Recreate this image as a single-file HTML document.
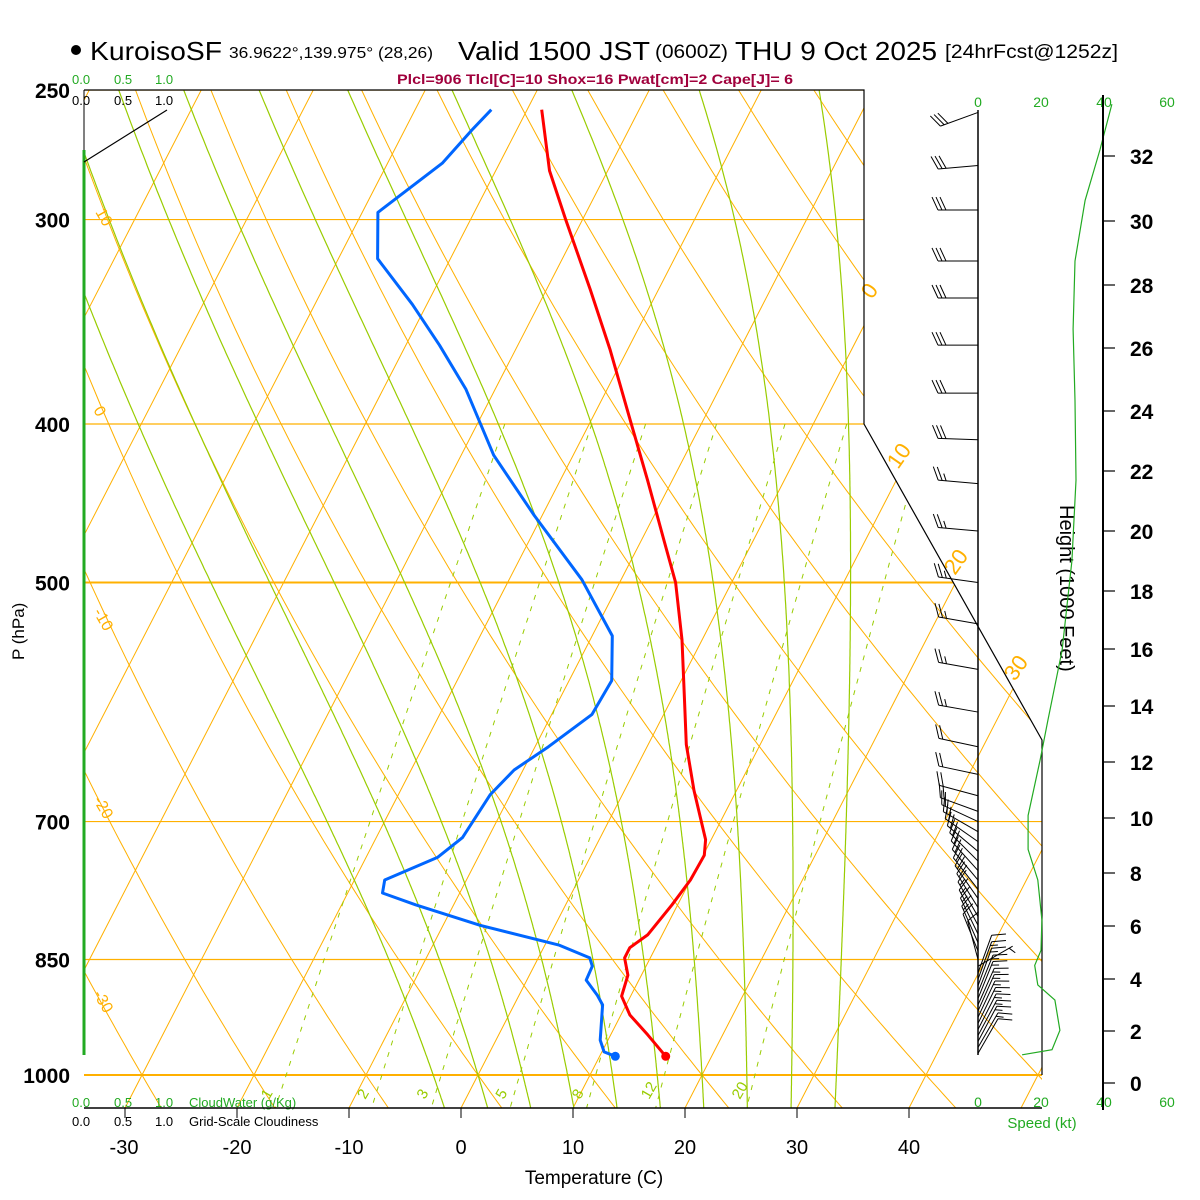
<!DOCTYPE html>
<html><head><meta charset="utf-8"><style>
html,body{margin:0;padding:0;background:#fff;}
svg{display:block;font-family:"Liberation Sans",sans-serif;}
</style></head><body>
<svg id="chart" width="1200" height="1200" viewBox="0 0 1200 1200" xmlns="http://www.w3.org/2000/svg">
<defs><clipPath id="plotclip"><polygon points="84,90 864,90 864,424 1042,740 1042,1108 84,1108"/></clipPath></defs>
<rect width="1200" height="1200" fill="#fff"/>
<g id="bg" clip-path="url(#plotclip)"></g>
<g id="fg"></g>
<g>
<circle cx="76" cy="50" r="5" fill="#000"/>
<text x="90" y="60" font-size="26" textLength="132" lengthAdjust="spacingAndGlyphs">KuroisoSF</text>
<text x="229" y="58" font-size="16" textLength="204" lengthAdjust="spacingAndGlyphs">36.9622°,139.975° (28,26)</text>
<text x="458" y="60" font-size="26" textLength="192" lengthAdjust="spacingAndGlyphs">Valid 1500 JST</text>
<text x="655" y="58" font-size="19" textLength="73" lengthAdjust="spacingAndGlyphs">(0600Z)</text>
<text x="735" y="60" font-size="26" textLength="202" lengthAdjust="spacingAndGlyphs">THU 9 Oct 2025</text>
<text x="945" y="58" font-size="19" textLength="173" lengthAdjust="spacingAndGlyphs">[24hrFcst@1252z]</text>
<text x="397" y="84" font-size="14" font-weight="bold" fill="#a0003c" textLength="396" lengthAdjust="spacingAndGlyphs">Plcl=906 Tlcl[C]=10 Shox=16 Pwat[cm]=2 Cape[J]= 6</text>
</g>
<g font-size="13">
<text x="72" y="84" fill="#22aa22">0.0</text>
<text x="114" y="84" fill="#22aa22">0.5</text>
<text x="155" y="84" fill="#22aa22">1.0</text>
<text x="72" y="105" fill="#000">0.0</text>
<text x="114" y="105" fill="#000">0.5</text>
<text x="155" y="105" fill="#000">1.0</text>
<text x="72" y="1107" fill="#22aa22">0.0</text>
<text x="114" y="1107" fill="#22aa22">0.5</text>
<text x="155" y="1107" fill="#22aa22">1.0</text>
<text x="189" y="1107" fill="#22aa22">CloudWater (g/Kg)</text>
<text x="72" y="1126" fill="#000">0.0</text>
<text x="114" y="1126" fill="#000">0.5</text>
<text x="155" y="1126" fill="#000">1.0</text>
<text x="189" y="1126" fill="#000">Grid-Scale Cloudiness</text>
</g>
<text x="0" y="0" font-size="17" transform="translate(24,660) rotate(-90)">P (hPa)</text>
<text x="594" y="1184" font-size="19" text-anchor="middle">Temperature (C)</text>
<text x="0" y="0" font-size="20" transform="translate(1060,505) rotate(90)">Height (1000 Feet)</text>
<text x="1042" y="1128" font-size="15" fill="#22aa22" text-anchor="middle">Speed (kt)</text>
<script>
// ---- data ----
const pressureTicks = [250,300,400,500,700,850,1000];
const tempTicks = [-30,-20,-10,0,10,20,30,40];
const tempTickLabelX = [124,237,349,461,573,685,797,909];
const isotherms = [-120,-110,-100,-90,-80,-70,-60,-50,-40,-30,-20,-10,0,10,20,30,40,50];
const dryAdiabats = [-40,-30,-20,-10,0,10,20,30,40,50,60,70,80,90,100,110,120,130,140,150,160];
const moistAdiabats = [-4,0,4,8,12,16,20,24,28,32];
const mixingRatios = [1,2,3,5,8,12,20];
const tempP = [257,280,300,331,360,398,433,471,500,542,590,628,670,718,734,760,787,821,836,848,869,895,919,945,974];
const tempC = [-38.7,-35.2,-31.5,-26.1,-21.6,-16.5,-12.2,-8.0,-5.0,-1.8,1.2,3.4,6.2,9.5,10.1,10.0,9.5,8.7,7.7,7.7,8.8,9.2,10.8,13.3,15.9];
const dewP = [257,264.5,277,297,317,338,358,381,418,455,498,539,574,602,630,651,674,716,736,760,774,787,810,833,848,858,875,894,906,952,968,974];
const dewC = [-43.2,-44.0,-45.1,-48.6,-46.5,-41.3,-37.0,-32.6,-27.1,-20.7,-13.5,-8.2,-6.2,-6.4,-8.8,-10.8,-11.8,-12.3,-13.6,-17.3,-16.9,-13.4,-6.7,1.3,4.6,5.2,5.3,7.0,7.9,9.3,10.2,11.4];
const speedP = [255,272,292,318,350,387,433,485,550,607,642,694,728,760,804,839,857,881,900,939,965,972];
const speedKt = [42.5,38.7,34,30.8,30.2,30.8,31.1,29.8,26.7,22.2,19.7,15.9,15.9,19,20.3,20,18,19,24.4,26,23.5,14];
const windP = [258,278,296,318,335,358,383,409,435,465,500,530,565,600,630,655,675,690,700,710,720,730,740,750,760,770,780,790,800,810,820,830,840,850,858,866,874,882,890,898,906,914,922,930,938,946,954,962,970];
const windKt = [30,30,30,30,30,30,30,30,25,25,25,25,25,25,20,20,20,20,20,20,20,20,20,20,20,20,20,20,15,15,15,15,10,10,5,10,15,15,15,15,15,15,15,15,15,15,15,15,10];
const windDir = [250,265,270,270,270,270,270,272,275,275,278,280,280,280,282,282,285,290,295,300,305,310,315,318,320,322,325,328,330,332,334,336,338,345,60,20,20,20,22,22,24,24,25,26,27,28,28,30,30];
const heightKft = [0,2,4,6,8,10,12,14,16,18,20,22,24,26,28,30,32];
const heightY = [1083,1031,979,926,873,818,762,706,649,591,531,471,411,348,285,221,156];
const speedTicks = [0,20,40,60];

// ---- axis functions ----
const NS='http://www.w3.org/2000/svg';
function yP(p){return 1075-710.5*Math.log(1000/p);}
function xT(T,p){return 478+11.2*T+0.515*(1075-yP(p));}
function xS(s){return 978+3.15*s;}
function mk(parent,tag,attrs){const e=document.createElementNS(NS,tag);for(const k in attrs)e.setAttribute(k,attrs[k]);parent.appendChild(e);return e;}
const bg=document.getElementById('bg'), fg=document.getElementById('fg'), svg=document.getElementById('chart');
const OR='#ffb000', GR='#99cc00';
function poly(pts){return pts.map(q=>q[0].toFixed(1)+','+q[1].toFixed(1)).join(' ');}

pressureTicks.forEach(p=>{
  const l=mk(bg,'line',{x1:84,x2:1042,y1:yP(p),y2:yP(p),stroke:OR,'stroke-width':(p===500||p===1000)?2:1.2});
  
  
  const t=mk(svg,'text',{x:70,y:yP(p)+8,'font-size':21,'font-weight':'bold','text-anchor':'end'});
  t.textContent=p;
  
  
});
isotherms.forEach(T=>{
  const l=mk(bg,'line',{x1:xT(T,1050),y1:yP(1050),x2:xT(T,240),y2:yP(240),stroke:OR,'stroke-width':1});
  
  
});
dryAdiabats.forEach(th=>{
  const pts=[];for(let p=1060;p>=240;p-=10){const T=(th+273.15)*Math.pow(p/1000,0.2857)-273.15;pts.push([xT(T,p),yP(p)]);}
  const l=mk(bg,'polyline',{points:poly(pts),fill:'none',stroke:OR,'stroke-width':1});
  
  
});
function dTdp(T,p){const Tk=T+273.15;const es=6.112*Math.exp(17.67*T/(T+243.5));const rs=0.622*es/(p-es);
  return (287*Tk+2.5e6*rs)/(1004+2.5e6*2.5e6*rs*0.622/(287*Tk*Tk))/p;}
moistAdiabats.forEach(tw=>{
  const up=[];let T=tw;for(let p=1000;p>=240;p-=2){up.push([xT(T,p),yP(p)]);T-=dTdp(T,p)*2;}
  const dn=[];T=tw;for(let p=1000;p<=1060;p+=2){dn.push([xT(T,p),yP(p)]);T+=dTdp(T,p)*2;}
  const pts=dn.reverse().concat(up);
  const l=mk(bg,'polyline',{points:poly(pts),fill:'none',stroke:GR,'stroke-width':1.2});
  
  
});
mixingRatios.forEach(w=>{
  const pts=[];for(let p=400;p<=1050;p+=10){const e=w*p/(622+w);const a=Math.log(e/6.112);const Td=243.5*a/(17.67-a);pts.push([xT(Td,p),yP(p)]);}
  const l=mk(bg,'polyline',{points:poly(pts),fill:'none',stroke:GR,'stroke-width':1,'stroke-dasharray':'5,7'});
  
  
  const e=w*1040/(622+w);const a=Math.log(e/6.112);const Td=243.5*a/(17.67-a);
  const t=mk(svg,'text',{x:0,y:0,'font-size':15,fill:GR,transform:'translate('+(xT(Td,1040)-8).toFixed(1)+',1100) rotate(-60)'});
  t.textContent=w;
  
  
});
[['10',95,212],['0',93,410],['-10',93,612],['-20',93,800],['-30',93,994]].forEach(d=>{
  const t=mk(svg,'text',{x:0,y:0,'font-size':16,fill:OR,transform:'translate('+d[1]+','+d[2]+') rotate(60)'});
  t.textContent=d[0];
  
  
});
[['0',872,300],['10',898,470],['20',955,576],['30',1015,682]].forEach(d=>{
  const t=mk(svg,'text',{x:0,y:0,'font-size':22,fill:OR,transform:'translate('+d[1]+','+d[2]+') rotate(-55)'});
  t.textContent=d[0];
  
  
});
mk(svg,'polyline',{points:'84,90 864,90 864,424 1042,740 1042,1075',fill:'none',stroke:'#000','stroke-width':1.2,});
mk(svg,'line',{x1:84,y1:1108,x2:1042,y2:1108,stroke:'#000','stroke-width':1.5,});
mk(svg,'line',{x1:84,y1:90,x2:84,y2:150,stroke:'#000','stroke-width':1});
mk(svg,'line',{x1:84,y1:150,x2:84,y2:1055,stroke:'#22aa22','stroke-width':3,});
mk(svg,'line',{x1:84,y1:162,x2:167,y2:110,stroke:'#000','stroke-width':1.2,});
tempTicks.forEach((T,i)=>{
  const x=xT(T,1000)-0.515*33;
  mk(svg,'line',{x1:x,y1:1108,x2:x,y2:1118,stroke:'#000','stroke-width':1});
  const t=mk(svg,'text',{x:tempTickLabelX[i],y:1154,'font-size':20,'text-anchor':'middle'});
  t.textContent=T;
  
  
});
const tp=tempP.map((p,i)=>[xT(tempC[i],p),yP(p)]);
const tl=mk(fg,'polyline',{points:poly(tp),fill:'none',stroke:'#ff0000','stroke-width':3,'stroke-linejoin':'round'});


const dp=dewP.map((p,i)=>[xT(dewC[i],p),yP(p)]);
const dl=mk(fg,'polyline',{points:poly(dp),fill:'none',stroke:'#0066ff','stroke-width':3,'stroke-linejoin':'round'});


const rd=mk(fg,'circle',{cx:tp[tp.length-1][0],cy:tp[tp.length-1][1],r:4.5,fill:'#ff0000'});


const bd=mk(fg,'circle',{cx:dp[dp.length-1][0],cy:dp[dp.length-1][1],r:4.5,fill:'#0066ff'});


mk(svg,'line',{x1:978,y1:110,x2:978,y2:1055,stroke:'#000','stroke-width':1.5,});
const sp=speedP.map((p,i)=>[xS(speedKt[i]),yP(p)]);
const sl=mk(svg,'polyline',{points:poly(sp),fill:'none',stroke:'#22aa22','stroke-width':1.2});


speedTicks.forEach(s=>{
  [107,1107].forEach(y=>{
    const t=mk(svg,'text',{x:xS(s),y:y,'font-size':14,fill:'#22aa22','text-anchor':'middle'});
    t.textContent=s;
    
    
  });
});
windP.forEach((p,i)=>{
  const y=yP(p), d=windDir[i]*Math.PI/180;
  const ux=Math.sin(d), uy=-Math.cos(d), nx=-uy, ny=ux;
  const L=40, tx=978+ux*L, ty=y+uy*L;
  const g=mk(svg,'g',{stroke:'#000','stroke-width':1,fill:'none'});
  
  
  mk(g,'line',{x1:978,y1:y,x2:tx,y2:ty});
  let s=windKt[i], pos=0;
  while(s>=10){const bx=tx-ux*pos,by=ty-uy*pos;mk(g,'line',{x1:bx,y1:by,x2:bx+nx*13+ux*6,y2:by+ny*13+uy*6});pos+=4;s-=10;}
  if(s>=5){if(pos===0)pos=4;const bx=tx-ux*pos,by=ty-uy*pos;mk(g,'line',{x1:bx,y1:by,x2:bx+nx*7+ux*3,y2:by+ny*7+uy*3});}
});
mk(svg,'line',{x1:1103,y1:95,x2:1103,y2:1110,stroke:'#000','stroke-width':2,});
heightKft.forEach((h,i)=>{
  mk(svg,'line',{x1:1103,y1:heightY[i],x2:1115,y2:heightY[i],stroke:'#000','stroke-width':1.2});
  const t=mk(svg,'text',{x:1130,y:heightY[i]+8,'font-size':21,'font-weight':'bold'});
  t.textContent=h;
  
  
});
</script>
</svg>
</body></html>
